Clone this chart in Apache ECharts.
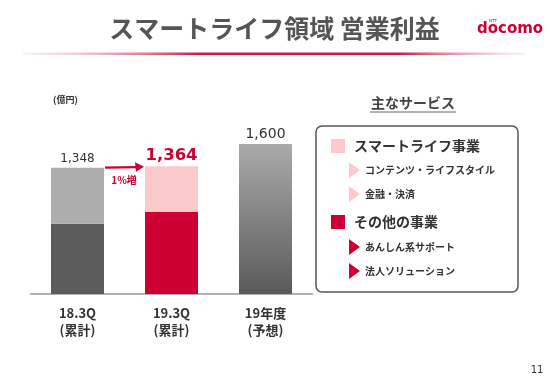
<!DOCTYPE html>
<html><head><meta charset="utf-8">
<script src="https://cdn.jsdelivr.net/npm/echarts@6/dist/echarts.min.js"></script>
<style>html,body{margin:0;padding:0;background:#fff}#c{width:550px;height:380px}</style>
</head><body><div id="c"></div>
<script>
const categories = ['18.3Q\n(累計)', '19.3Q\n(累計)', '19年度\n(予想)'];
const otherBiz = [750, 875, null];      // その他の事業
const smartLife = [598, 489, null];     // スマートライフ事業
const forecast = [null, null, 1600];    // 19年度 予想
const totals = [1348, 1364, 1600];
const growthText = '1%増';
const JP = '"Noto Sans CJK JP", sans-serif';
const NUM = '"DejaVu Sans", Verdana, sans-serif';
const RED = '#cc0033', PINK = '#fcc9cc', DARK = '#5c5c5c', LIGHT = '#adadad';

const chart = echarts.init(document.getElementById('c'));
const fmt = v => v.toLocaleString('en-US');

chart.setOption({
  animation: false,
  grid: { left: 30.5, width: 282, top: 106.5, bottom: 86 },
  xAxis: {
    type: 'category', data: categories,
    axisLine: { lineStyle: { color: '#999', width: 1.5 } },
    axisTick: { show: false },
    axisLabel: { margin: 11, color: '#333', fontFamily: JP, fontWeight: 'bold', fontSize: 13, lineHeight: 17 }
  },
  yAxis: { type: 'value', min: 0, max: 2000, show: false, splitLine: { show: false } },
  series: [
    { type: 'bar', stack: 's', barWidth: 53,
      data: otherBiz.map((v, i) => ({ value: v, itemStyle: { color: i === 0 ? DARK : RED } })) },
    { type: 'bar', stack: 's', barWidth: 53,
      data: smartLife.map((v, i) => ({
        value: v,
        itemStyle: { color: i === 0 ? LIGHT : PINK },
        label: i === 0
          ? { show: true, position: 'top', distance: 3, formatter: fmt(totals[i]), color: '#333', fontFamily: NUM, fontSize: 12 }
          : { show: true, position: 'top', distance: 2, formatter: fmt(totals[i]), color: RED, fontFamily: NUM, fontWeight: 'bold', fontSize: 16.5 }
      })) },
    { type: 'bar', stack: 's', barWidth: 53,
      data: forecast.map(v => ({
        value: v,
        itemStyle: { color: new echarts.graphic.LinearGradient(0, 0, 0, 1, [
          { offset: 0, color: '#aaaaaa' }, { offset: 1, color: '#5a5a5a' }]) },
        label: { show: v != null, position: 'top', distance: 3, formatter: v != null ? fmt(v) : '', color: '#333', fontFamily: NUM, fontSize: 14 }
      })) }
  ]
});

// arrow between bars, positioned from axis conversion
const p1 = chart.convertToPixel({ gridIndex: 0 }, [0, totals[0]]);
const p2 = chart.convertToPixel({ gridIndex: 0 }, [1, totals[1]]);
const half = 26.5;
const ax1 = p1[0] + half + 1, ay1 = p1[1];
const ax2 = p2[0] - half - 2, ay2 = p2[1] + 1;

const legendItems = [
  { type: 'sq', color: PINK, text: 'スマートライフ事業', y: 146 },
  { type: 'tri', color: PINK, text: 'コンテンツ・ライフスタイル', y: 170 },
  { type: 'tri', color: PINK, text: '金融・決済', y: 194 },
  { type: 'sq', color: RED, text: 'その他の事業', y: 222 },
  { type: 'tri', color: RED, text: 'あんしん系サポート', y: 247 },
  { type: 'tri', color: RED, text: '法人ソリューション', y: 271 }
];
const legendGraphics = [];
legendItems.forEach(it => {
  if (it.type === 'sq') {
    legendGraphics.push({ type: 'rect', shape: { x: 331, y: it.y - 7, width: 14, height: 14 }, style: { fill: it.color } });
    legendGraphics.push({ type: 'text', x: 354, y: it.y, style: { text: it.text, fill: '#333', font: 'bold 14px ' + JP, textVerticalAlign: 'middle' } });
  } else {
    legendGraphics.push({ type: 'polygon', shape: { points: [[349, it.y - 8], [360, it.y], [349, it.y + 8]] }, style: { fill: it.color } });
    legendGraphics.push({ type: 'text', x: 365, y: it.y, style: { text: it.text, fill: '#333', font: 'bold 10px ' + JP, textVerticalAlign: 'middle' } });
  }
});

chart.setOption({
  graphic: [
    { type: 'text', x: 274.5, y: 28, style: { text: 'スマートライフ領域 営業利益', fill: '#555', font: 'bold 25px ' + JP, textAlign: 'center', textVerticalAlign: 'middle' } },
    { type: 'text', x: 477, y: 29, style: { text: 'docomo', fill: RED, font: 'bold 15px ' + NUM, textVerticalAlign: 'middle' } },
    { type: 'text', x: 493, y: 21, style: { text: 'NTT', fill: RED, font: '4px ' + NUM, textAlign: 'center', textVerticalAlign: 'middle' } },
    { type: 'rect', shape: { x: 23, y: 52.5, width: 502, height: 2.5 },
      style: { fill: new echarts.graphic.LinearGradient(0, 0, 1, 0, [
        { offset: 0, color: 'rgba(225,215,218,0.3)' }, { offset: 0.35, color: '#d21a45' },
        { offset: 0.75, color: '#d21a45' }, { offset: 1, color: 'rgba(225,215,218,0.3)' }]) } },
    { type: 'text', x: 53, y: 100, style: { text: '(億円)', fill: '#333', font: 'bold 9px ' + JP, textVerticalAlign: 'middle' } },
    { type: 'line', shape: { x1: ax1, y1: ay1, x2: ax2 - 6, y2: ay2 }, style: { stroke: RED, lineWidth: 2.5 } },
    { type: 'polygon', shape: { points: [[ax2 - 8, ay2 - 5], [ax2 + 1, ay2 - 0.3], [ax2 - 7, ay2 + 4.5]] }, style: { fill: RED } },
    { type: 'text', x: (ax1 + ax2) / 2, y: 180, style: { text: growthText, fill: RED, font: 'bold 10px ' + JP, textAlign: 'center', textVerticalAlign: 'middle' } },
    { type: 'text', x: 413, y: 103, style: { text: '主なサービス', fill: '#444', font: 'bold 14px ' + JP, textAlign: 'center', textVerticalAlign: 'middle' } },
    { type: 'line', shape: { x1: 370, y1: 112, x2: 456, y2: 112 }, style: { stroke: '#666', lineWidth: 1 } },
    { type: 'rect', shape: { x: 316, y: 126, width: 202, height: 166, r: 6 }, style: { fill: '#fff', stroke: '#555', lineWidth: 1.5 } },
    ...legendGraphics,
    { type: 'text', x: 537, y: 370, style: { text: '11', fill: '#333', font: '10px ' + NUM, textAlign: 'center', textVerticalAlign: 'middle' } }
  ]
});
</script></body></html>
